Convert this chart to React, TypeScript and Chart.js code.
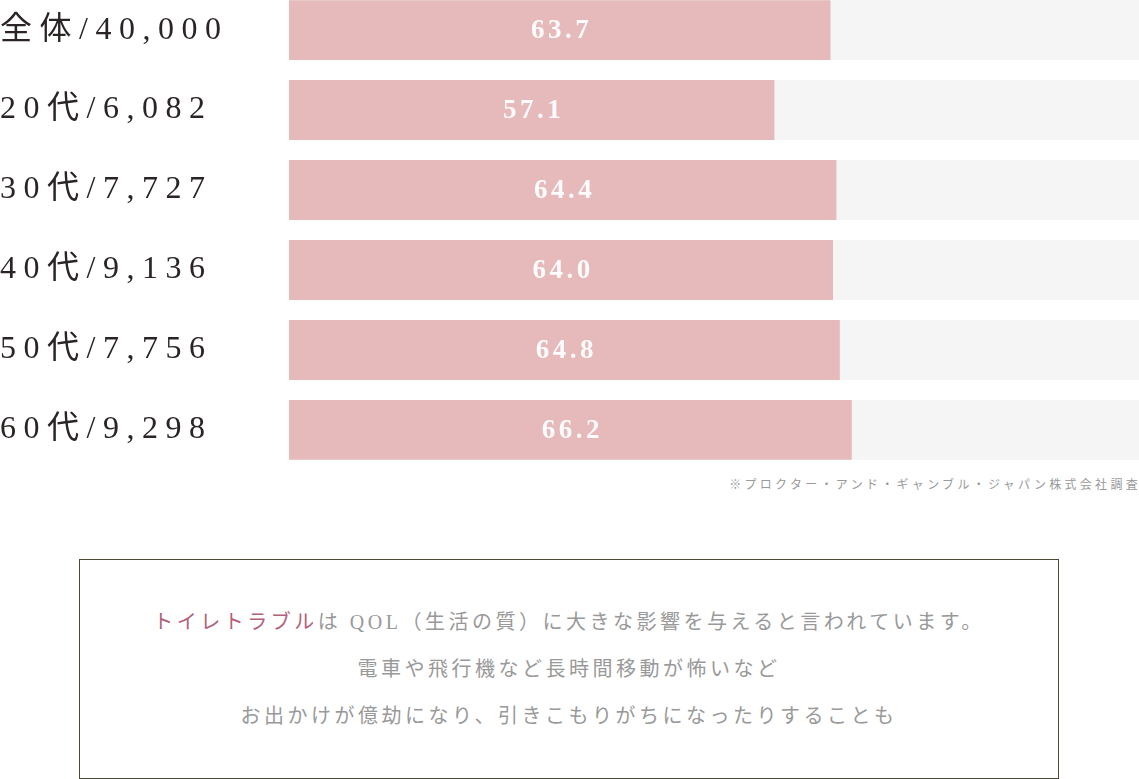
import { useEffect, useRef } from "react";
import { Chart, registerables } from "chart.js";

Chart.register(...registerables);

const categories = ["全体/40,000", "20代/6,082", "30代/7,727", "40代/9,136", "50代/7,756", "60代/9,298"];
const values = [63.7, 57.1, 64.4, 64.0, 64.8, 66.2];
const trackValues = [100, 100, 100, 100, 100, 100];

const SERIF = '"Liberation Serif", "DejaVu Serif", "Noto Sans CJK JP", serif';

// white value text in the middle of each pink bar
const valueLabels = {
  id: "valueLabels",
  afterDatasetsDraw(chart: any) {
    const ctx = chart.ctx;
    const meta = chart.getDatasetMeta(0);
    ctx.save();
    ctx.letterSpacing = "3.5px";
    ctx.font = `bold 27px ${SERIF}`;
    ctx.fillStyle = "rgba(255,255,255,0.95)";
    ctx.textAlign = "center";
    ctx.textBaseline = "middle";
    meta.data.forEach((bar: any, i: number) => {
      const { x, y, base } = bar.getProps(["x", "y", "base"], true);
      ctx.fillText(values[i].toFixed(1), (x + base) / 2 + 2, y + 1);
    });
    ctx.restore();
  },
};

// spaced-out serif axis labels
const spacing = {
  id: "spacing",
  beforeDraw(chart: any) {
    chart.ctx.letterSpacing = "7.5px";
  },
  afterDraw(chart: any) {
    chart.ctx.letterSpacing = "0px";
  },
};

export default function App() {
  const canvasRef = useRef<HTMLCanvasElement>(null);

  useEffect(() => {
    if (!canvasRef.current) return;
    const chart = new Chart(canvasRef.current, {
      type: "bar",
      data: {
        labels: categories,
        datasets: [
          {
            label: "割合",
            data: values,
            backgroundColor: "#e6b9bb",
            grouped: false,
            order: 1,
            categoryPercentage: 1,
            barPercentage: 0.75,
          },
          {
            label: "track",
            data: trackValues,
            backgroundColor: "#f5f5f5",
            grouped: false,
            order: 2,
            categoryPercentage: 1,
            barPercentage: 0.75,
          },
        ],
      },
      options: {
        indexAxis: "y",
        animation: false,
        responsive: true,
        maintainAspectRatio: false,
        layout: { padding: 0 },
        plugins: {
          legend: { display: false },
          tooltip: { enabled: false },
        },
        scales: {
          x: { display: false, min: 0, max: 100 },
          y: {
            grid: { display: false },
            border: { display: false },
            ticks: {
              crossAlign: "far",
              padding: 0,
              color: "#2b2424",
              // tiny line height so the labels add no padding above/below the bars
              font: { family: SERIF, size: 32, lineHeight: 0.01 },
            },
            afterFit: (scale: any) => {
              scale.width = 289;
            },
          },
        },
      },
      plugins: [spacing, valueLabels],
    });
    return () => chart.destroy();
  }, []);

  return (
    <div style={{ position: "absolute", left: 0, top: 0, width: 1139, fontFamily: SERIF }}>
      <div style={{ position: "relative", height: 480, marginTop: -10 }}>
        <canvas ref={canvasRef} />
      </div>
      <div
        style={{
          height: 30,
          lineHeight: "30px",
          textAlign: "right",
          fontSize: 12,
          letterSpacing: "3.3px",
          color: "#9a9a9a",
          marginRight: -2,
        }}
      >
        ※プロクター・アンド・ギャンブル・ジャパン株式会社調査
      </div>
      <div
        style={{
          marginTop: 59,
          marginLeft: 79,
          width: 980,
          height: 220,
          boxSizing: "border-box",
          border: "1px solid #4d4a33",
          display: "flex",
          flexDirection: "column",
          justifyContent: "center",
          alignItems: "center",
          fontSize: 20,
          letterSpacing: "3.5px",
          lineHeight: "47px",
          color: "#999999",
          textAlign: "center",
        }}
      >
        <div>
          <span style={{ color: "#b35f7b" }}>トイレトラブル</span>は QOL（生活の質）に大きな影響を与えると言われています。
        </div>
        <div>電車や飛行機など長時間移動が怖いなど</div>
        <div>お出かけが億劫になり、引きこもりがちになったりすることも</div>
      </div>
    </div>
  );
}
